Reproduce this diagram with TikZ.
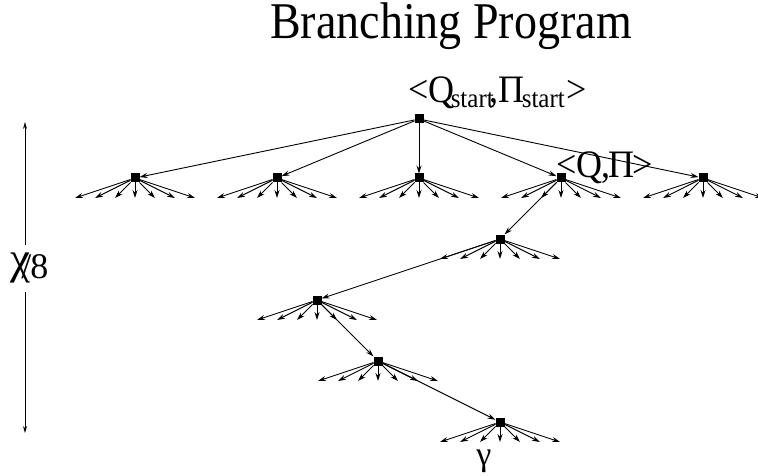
\documentclass[tikz,border=0pt]{standalone}
\usepackage{fontspec}
\setmainfont{Liberation Serif}
\usetikzlibrary{arrows.meta,calc}
\begin{document}
\begin{tikzpicture}[x=1pt,y=-1pt,line width=0.9pt,
  vtx/.style={fill=black,minimum size=9pt,inner sep=0pt,outer sep=0pt},
  arr/.style={-{Stealth[length=8pt,width=5pt]}},
  lbl/.style={inner sep=0pt,anchor=base west}]
\useasboundingbox (0,0) rectangle (758,476);

% title
\node[inner sep=0pt,anchor=base] (title) at (451,39)
  {\scalebox{1}[1.12]{\fontsize{46}{50}\selectfont Branching Program}};

% vertices of the program
\node[vtx] (r) at (419,119) {};
\foreach \i/\x in {1/135,2/277,3/419,4/561,5/703}
  \node[vtx] (a\i) at (\x,178) {};
\node[vtx] (b) at (500,239) {};
\node[vtx] (c) at (317,300) {};
\node[vtx] (d) at (378,361) {};
\node[vtx] (e) at (500,422) {};

% edges from the start vertex and along the path
\foreach \i in {1,...,5} \draw[arr] (r) -- (a\i);
\draw[arr] (a4) -- (b);
\draw[arr] (b) -- (c);
\draw[arr] (c) -- (d);
\draw[arr] (d) -- (e);

% fan of outgoing branches under each vertex
\foreach \n in {a1,a2,a3,a4,a5,b,c,d,e}
  \foreach \dx in {-60,-40,...,60}
    \draw[arr] (\n) -- ($(\n)+(\dx,20)$);

% labels
\node[lbl] (start) at (408,103) {\scalebox{1}[1.08]{\fontsize{36}{40}\selectfont
  <Q\kern-4pt\raisebox{-4pt}{\fontsize{25}{28}\selectfont start}\kern-4pt,%
  Π\kern-3pt\raisebox{-4pt}{\fontsize{25}{28}\selectfont start}\kern2pt>}};
\node[lbl] (state) at (556,178) {\scalebox{1}[1.08]{\fontsize{36}{40}\selectfont <Q\kern-1pt,\kern-2ptΠ\kern-2pt>}};
\node[inner sep=0pt,anchor=base] (gam) at (484,465) {\fontsize{34}{36}\selectfont γ};

% depth marker
\coordinate (top) at (25,122);
\coordinate (bot) at (25,433);
\coordinate (gapA) at (25,245);
\coordinate (gapB) at (25,292);
\draw[-{Stealth[length=7pt,width=4pt]}] (gapA) -- (top);
\draw[-{Stealth[length=7pt,width=4pt]}] (gapB) -- (bot);
\node[lbl] (depth) at (10,278) {\fontsize{36}{38}\selectfont
  \raisebox{5pt}{\scalebox{1.25}{χ}}\kern-9pt/\kern-1pt8};
\end{tikzpicture}
\end{document}
